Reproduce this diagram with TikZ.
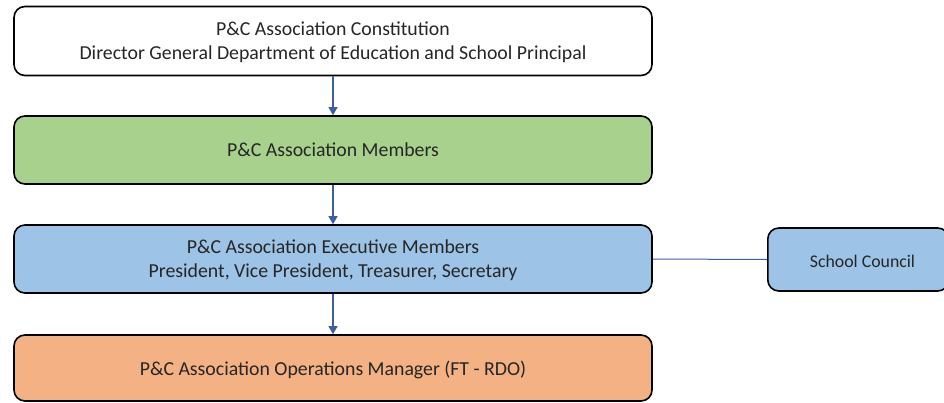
\documentclass[tikz,border=0pt]{standalone}
\usepackage{fontspec}
\setmainfont{Carlito}
\usetikzlibrary{arrows.meta}
\definecolor{gfill}{HTML}{A9D18E}
\definecolor{bfill}{HTML}{9DC3E6}
\definecolor{ofill}{HTML}{F4B183}
\definecolor{conn}{HTML}{3C5FA0}
\begin{document}
\begin{tikzpicture}[x=1pt,y=-1pt,
  box/.style={draw=black,line width=1.6pt,rounded corners=11pt,minimum width=638pt,minimum height=69pt,align=center,font=\fontsize{19.8}{24}\selectfont,text=black!85,text depth=0pt},
  small/.style={draw=black,line width=1.6pt,rounded corners=11pt,minimum width=181pt,minimum height=63pt},
  lbl/.style={font=\fontsize{17.8}{21}\selectfont,text=black!85},
  arr/.style={conn,line width=1.2pt,-{Triangle[length=8pt,width=9pt]}},
  link/.style={conn,line width=1pt}]
\useasboundingbox (0,0) rectangle (944,402);
\begin{scope}
\clip (0,0) rectangle (944,402);
\node[box,fill=white] (cons) at (333,41) {P\&C Association Constitution\\Director General Department of Education and School Principal};
\node[box,fill=gfill,minimum height=68pt] (mem) at (333,150) {P\&C Association Members};
\node[box,fill=bfill,minimum height=68pt] (exec) at (333,259) {P\&C Association Executive Members\\President, Vice President, Treasurer, Secretary};
\node[box,fill=ofill,minimum height=66pt] (ops) at (333,368) {P\&C Association Operations Manager (FT - RDO)};
\node[small,fill=bfill,anchor=west] (sc) at (767,259.5) {};
\node[lbl] (sclbl) at (862.5,261) {School Council};
\draw[arr] (cons.south) -- (mem.north);
\draw[arr] (mem.south) -- (exec.north);
\draw[arr] (exec.south) -- (ops.north);
\draw[link] (exec.east) -- (sc.west);
\end{scope}
\end{tikzpicture}
\end{document}
